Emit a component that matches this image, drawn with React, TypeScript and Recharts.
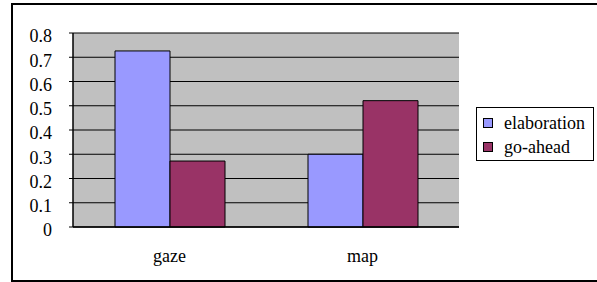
import React from 'react';
import { BarChart, Bar, XAxis, YAxis, CartesianGrid, Legend } from 'recharts';

const categories = ['gaze', 'map'];
const elaboration = [0.726, 0.3];
const goAhead = [0.272, 0.521];
const yTicks = [0, 0.1, 0.2, 0.3, 0.4, 0.5, 0.6, 0.7, 0.8];

const series = [
  { key: 'elaboration', color: '#9999FF' },
  { key: 'go-ahead', color: '#993366' },
];

const data = categories.map((name, i) => ({
  name,
  elaboration: elaboration[i],
  'go-ahead': goAhead[i],
}));

const font = "'Liberation Serif', 'Times New Roman', serif";

// legend box like the old Excel one
const LegendBox = () => (
  <div
    style={{
      border: '1px solid #000',
      background: '#fff',
      width: 118,
      height: 54,
      boxSizing: 'border-box',
      padding: '3px 0 0 6px',
      fontFamily: font,
      fontSize: 18,
      lineHeight: '24px',
      color: '#000',
    }}
  >
    {series.map((s) => (
      <div key={s.key} style={{ display: 'flex', alignItems: 'center' }}>
        <span
          style={{
            display: 'inline-block',
            width: 8,
            height: 8,
            background: s.color,
            border: '1px solid #000',
            marginRight: 11,
          }}
        />
        {s.key}
      </div>
    ))}
  </div>
);

const App: React.FC = () => {
  const fmt = (v: number): string => (v === 0 ? '0' : v.toFixed(1));

  return (
    <div style={{ position: 'absolute', left: 0, top: 0, width: 597, height: 282, background: '#fff', overflow: 'hidden' }}>
      {/* outer frame, right side runs off the picture */}
      <div
        style={{
          position: 'absolute',
          left: 11,
          top: 3,
          width: 620,
          height: 279,
          border: '2px solid #000',
          boxSizing: 'border-box',
        }}
      />
      <div style={{ position: 'absolute', left: 0, top: 0 }}>
        <BarChart
          width={597}
          height={282}
          data={data}
          margin={{ top: 33, right: 138, left: 0, bottom: 0 }}
          barSize={55}
          barGap={0}
        >
          <CartesianGrid fill="#C0C0C0" fillOpacity={1} stroke="#000" vertical={false} />
          <XAxis
            xAxisId="mid"
            type="number"
            domain={[0, 2]}
            ticks={[1]}
            orientation="bottom"
            mirror
            height={0}
            axisLine={false}
            tickLine={{ stroke: '#000' }}
            tickSize={6}
            tickFormatter={() => ''}
          />
          <XAxis
            dataKey="name"
            height={55}
            axisLine={{ stroke: '#000', strokeWidth: 1.5 }}
            tickLine={false}
            tickSize={0}
            tickMargin={22}
            tick={{ fontSize: 18, fill: '#000', fontFamily: font }}
          />
          <XAxis
            xAxisId="top"
            dataKey="name"
            orientation="top"
            height={0}
            axisLine={{ stroke: '#808080' }}
            tick={false}
            tickLine={false}
          />
          <YAxis
            width={73}
            domain={[0, 0.8]}
            ticks={yTicks}
            interval={0}
            tickFormatter={fmt}
            axisLine={{ stroke: '#000', strokeWidth: 1.5 }}
            tickLine={{ stroke: '#000' }}
            tickSize={4}
            tickMargin={17}
            tick={{ fontSize: 18, fill: '#000', fontFamily: font, dy: 3 }}
          />
          <YAxis
            yAxisId="right"
            orientation="right"
            width={0}
            domain={[0, 0.8]}
            axisLine={{ stroke: '#808080' }}
            tick={false}
            tickLine={false}
          />
          <Legend
            layout="horizontal"
            align="center"
            verticalAlign="middle"
            wrapperStyle={{ left: 476, top: 107, width: 118 }}
            content={() => <LegendBox />}
          />
          {series.map((s) => (
            <Bar
              key={s.key}
              dataKey={s.key}
              fill={s.color}
              stroke="#000"
              strokeWidth={1}
              isAnimationActive={false}
            />
          ))}
        </BarChart>
      </div>
    </div>
  );
};

export default App;
